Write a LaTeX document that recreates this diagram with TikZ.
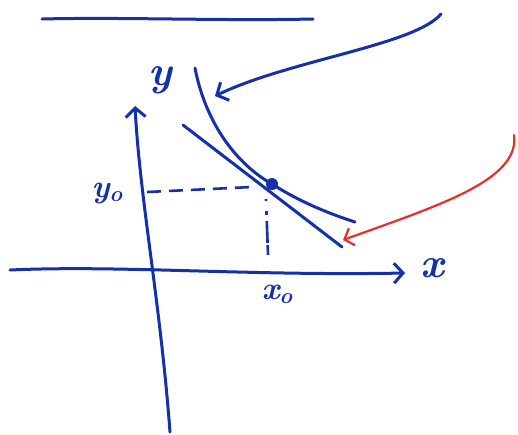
\documentclass[tikz,border=0pt]{standalone}
\usepackage{fontspec}
\usetikzlibrary{arrows.meta}
\definecolor{pen}{RGB}{22,48,170}
\definecolor{redpen}{RGB}{235,45,40}
\begin{document}
\begin{tikzpicture}[x=1pt,y=-1pt,
  stroke/.style={draw=pen,line width=3pt,line cap=round,line join=round},
  thin stroke/.style={draw=redpen,line width=2.2pt,line cap=round,line join=round},
  chev/.style={-{Straight Barb[length=9pt,width=20pt,line width=3pt]}},
  redchev/.style={-{Straight Barb[length=8pt,width=18pt,line width=2.2pt]}},
  lbl/.style={text=pen,font=\fontsize{42}{42}\selectfont\bfseries\itshape},
  sublbl/.style={text=pen,font=\fontsize{32}{32}\selectfont\bfseries\itshape}]
\useasboundingbox (0,0) rectangle (518,434);
% coordinates
\coordinate (topL) at (42,19);
\coordinate (topR) at (313,19);
\coordinate (yb) at (170,432);
\coordinate (yt) at (135,106);
\coordinate (xl) at (10,270);
\coordinate (xr) at (405,273);
\coordinate (p) at (272,184);
\coordinate (cs) at (195,68);
\coordinate (ce) at (355,222);
\coordinate (ts) at (183,125);
\coordinate (te) at (342,247);
\coordinate (bs) at (441,14);
\coordinate (bt) at (215,96);
\coordinate (rs) at (514,135);
\coordinate (rt) at (343,240);
\coordinate (dl) at (147,192);
\coordinate (dr) at (252,187);
\coordinate (vt) at (266,199);
\coordinate (vb) at (268,255);
% top line
\draw[stroke] (topL) .. controls (120,17) and (220,21) .. (topR);
% axes
\draw[stroke,chev] (yb) .. controls (160,300) and (140,200) .. (yt);
\draw[stroke,chev] (xl) .. controls (120,265) and (250,276) .. (xr);
% curve and tangent
\draw[stroke] (cs) .. controls (206,125) and (238,165) .. (p) .. controls (300,202) and (330,214) .. (ce);
\draw[stroke] (ts) -- (te);
\fill[pen] (p) circle (6pt);
% dashed helper lines
\draw[draw=pen,line width=2.6pt,dash pattern=on 14pt off 8pt] (dl) -- (dr);
\draw[draw=pen,line width=2.6pt,dash pattern=on 2pt off 10pt on 4pt off 6pt on 22pt] (vt) -- (vb);
% arrows
\draw[stroke,chev] (bs) .. controls (415,45) and (290,60) .. (bt);
\draw[thin stroke,draw=redpen,redchev] (rs) .. controls (520,180) and (440,205) .. (rt);
% labels
\node[lbl] (ylab) at (160,80) {y};
\node[lbl] (xlab) at (432,268) {x};
\node[sublbl] (y0) at (107,193) {y\raisebox{-4pt}{\fontsize{22}{22}\selectfont o}};
\node[sublbl] (x0) at (277,294) {x\raisebox{-4pt}{\fontsize{22}{22}\selectfont o}};
\end{tikzpicture}
\end{document}
